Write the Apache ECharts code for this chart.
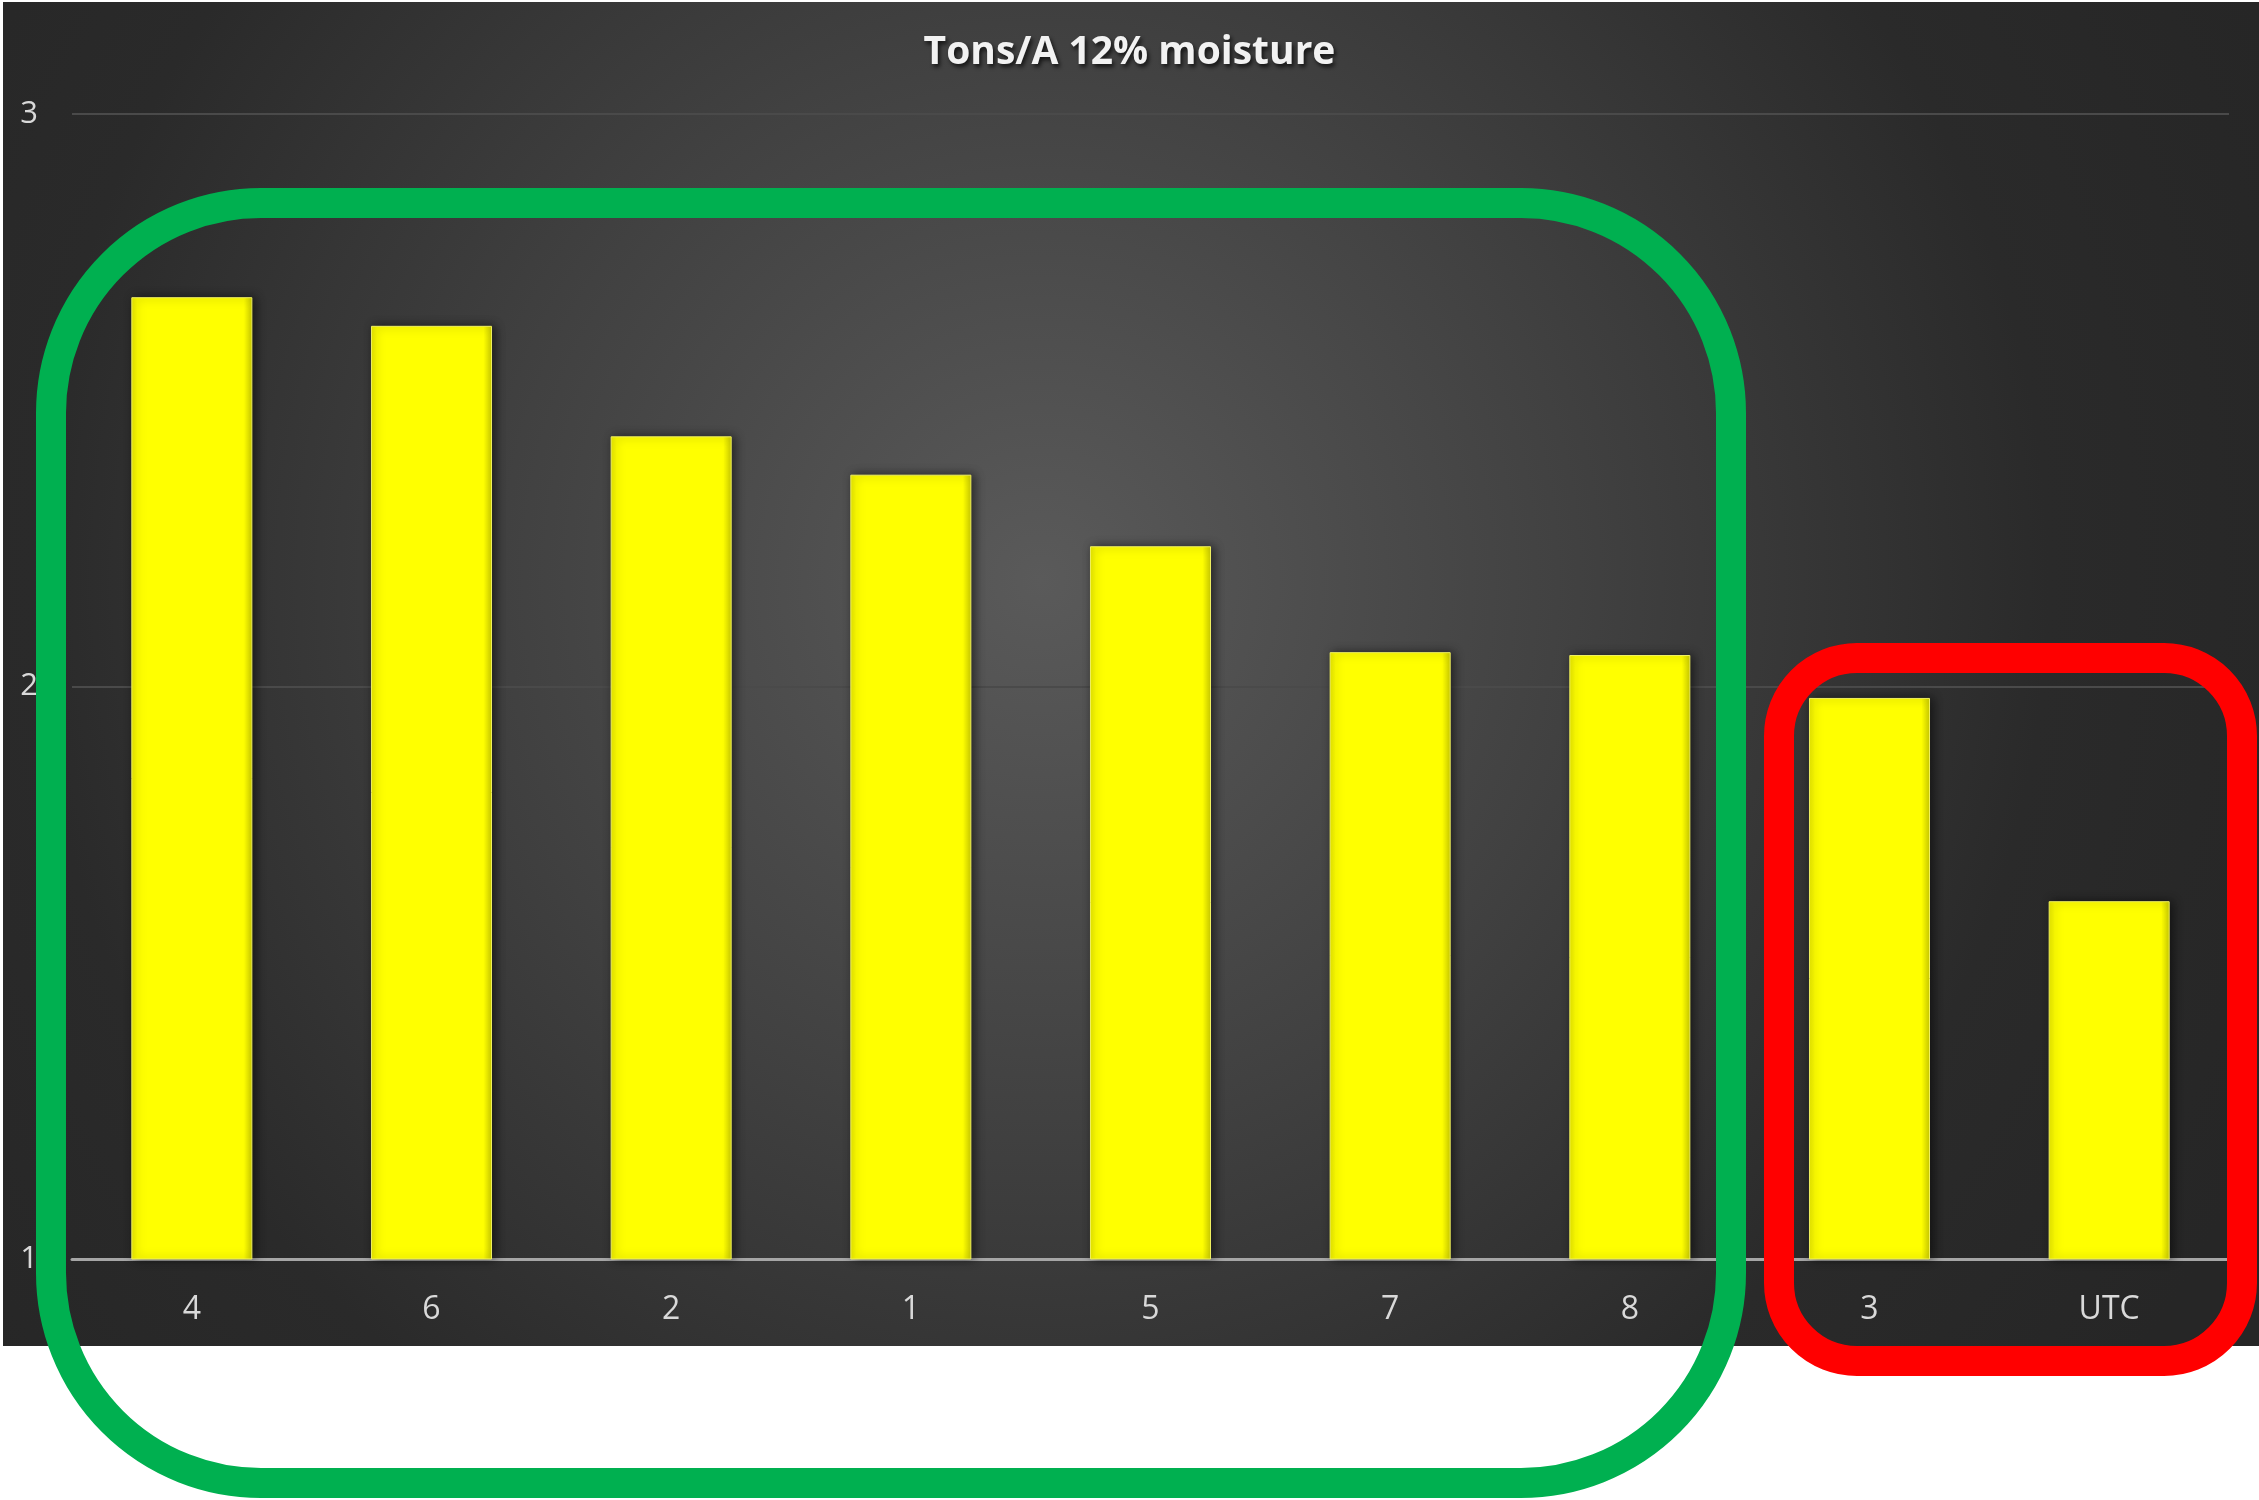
<!DOCTYPE html>
<html>
<head>
<meta charset="utf-8">
<script src="https://cdn.jsdelivr.net/npm/echarts@6/dist/echarts.min.js"></script>
<style>
html,body{margin:0;padding:0;background:#ffffff;}
#chart{width:2259px;height:1500px;}
</style>
</head>
<body>
<div id="chart"></div>
<script>
const titleText = 'Tons/A 12% moisture';
const categories = ['4', '6', '2', '1', '5', '7', '8', '3', 'UTC'];
const values = [2.68, 2.63, 2.437, 2.37, 2.245, 2.06, 2.055, 1.98, 1.625];
const yTicks = [1, 2, 3];

const chart = echarts.init(document.getElementById('chart'), null, {renderer: 'canvas'});

const option = {
  backgroundColor: '#ffffff',
  animation: false,
  title: {
    text: titleText,
    left: 'center',
    top: 28,
    textStyle: {
      color: '#f2f2f2',
      fontFamily: 'Open Sans',
      fontWeight: 'bold',
      fontSize: 39,
      textShadowColor: 'rgba(0,0,0,0.7)',
      textShadowBlur: 4,
      textShadowOffsetX: 2,
      textShadowOffsetY: 3
    }
  },
  graphic: [
    {
      type: 'rect',
      z: -10,
      silent: true,
      shape: {x: 3, y: 2, width: 2256, height: 1344},
      style: {
        fill: {
          type: 'radial', x: 0.46, y: 0.43, r: 1.0,
          colorStops: [
            {offset: 0, color: '#5a5a5a'},
            {offset: 0.4, color: '#414141'},
            {offset: 0.75, color: '#2a2a2a'},
            {offset: 1, color: '#262626'}
          ]
        }
      }
    },
    {
      type: 'rect',
      z: 100,
      silent: true,
      shape: {x: 51, y: 203, width: 1680, height: 1280, r: 210},
      style: {fill: 'none', stroke: '#00b050', lineWidth: 30}
    },
    {
      type: 'rect',
      z: 100,
      silent: true,
      shape: {x: 1779, y: 658, width: 463, height: 703, r: 78},
      style: {fill: 'none', stroke: '#ff0000', lineWidth: 30}
    }
  ],
  grid: {left: 72, right: 30, top: 114, bottom: 241, containLabel: false},
  xAxis: {
    type: 'category',
    data: categories,
    axisLine: {show: true, lineStyle: {color: '#a6a6a6', width: 3}},
    axisTick: {show: false},
    axisLabel: {
      color: '#d9d9d9',
      fontFamily: 'Open Sans',
      fontSize: 32,
      margin: 35
    },
    splitLine: {show: false}
  },
  yAxis: {
    type: 'value',
    min: 1,
    max: 3,
    interval: 1,
    axisLine: {show: false},
    axisTick: {show: false},
    axisLabel: {
      color: '#d9d9d9',
      fontFamily: 'Open Sans',
      fontSize: 31,
      margin: 34,
      formatter: function (v) { return yTicks.indexOf(v) >= 0 ? String(v) : ''; }
    },
    splitLine: {show: true, lineStyle: {color: '#4a4a4a', width: 2}}
  },
  series: [{
    type: 'bar',
    data: values,
    barCategoryGap: '49.5%',
    itemStyle: {
      color: {
        type: 'linear', x: 0, y: 0, x2: 1, y2: 0,
        colorStops: [
          {offset: 0, color: '#e8e800'},
          {offset: 0.05, color: '#ffff00'},
          {offset: 0.93, color: '#ffff00'},
          {offset: 1, color: '#cccc00'}
        ]
      },
      borderColor: '#f0f060',
      borderWidth: 1,
      shadowColor: 'rgba(0,0,0,0.55)',
      shadowBlur: 10,
      shadowOffsetX: 3,
      shadowOffsetY: 0
    }
  }]
};

chart.setOption(option);
</script>
</body>
</html>
